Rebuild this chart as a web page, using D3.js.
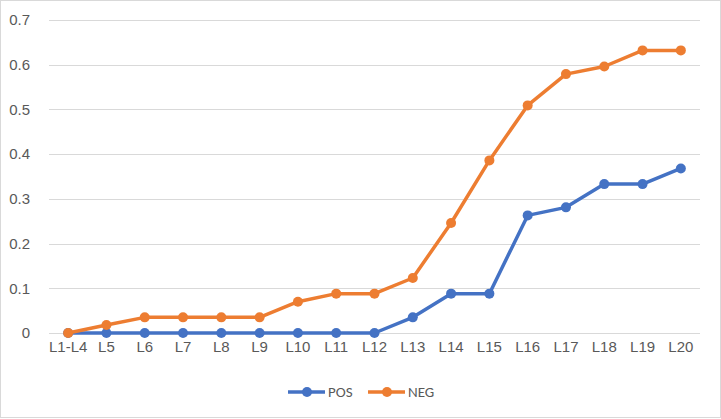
<!DOCTYPE html>
<html>
<head>
<meta charset="utf-8">
<style>
  body { margin: 0; background: #fff; }
  svg { font-family: Carlito, Calibri, "Open Sans", sans-serif; }
</style>
</head>
<body>
<script src="https://d3js.org/d3.v7.min.js"></script>
<script>
// chart data
var categories = ["L1-L4", "L5", "L6", "L7", "L8", "L9", "L10", "L11", "L12",
                  "L13", "L14", "L15", "L16", "L17", "L18", "L19", "L20"];
var pos = [0, 0, 0, 0, 0, 0, 0, 0, 0, 0.035, 0.088, 0.088, 0.263, 0.281, 0.333, 0.333, 0.368];
var neg = [0, 0.018, 0.035, 0.035, 0.035, 0.035, 0.070, 0.088, 0.088, 0.123, 0.246, 0.386, 0.509, 0.579, 0.596, 0.632, 0.632];
var yTicks = [0, 0.1, 0.2, 0.3, 0.4, 0.5, 0.6, 0.7];
var seriesNames = ["POS", "NEG"];
var colors = ["#4472C4", "#ED7D31"];

var width = 721, height = 419;
var margin = {top: 20, right: 21, bottom: 86, left: 49};
var fontSize = 15;

var svg = d3.select("body").append("svg")
    .attr("width", width)
    .attr("height", height);

// outer chart border
svg.append("rect")
    .attr("x", 0.5).attr("y", 0.5)
    .attr("width", width - 1).attr("height", height - 2)
    .attr("fill", "#fff")
    .attr("stroke", "#d9d9d9");

var x = d3.scaleBand()
    .domain(categories)
    .range([margin.left, width - margin.right]);

var y = d3.scaleLinear()
    .domain([0, 0.7])
    .range([height - margin.bottom, margin.top]);

// gridlines
svg.append("g")
    .selectAll("line")
    .data(yTicks)
    .join("line")
    .attr("x1", margin.left)
    .attr("x2", width - margin.right)
    .attr("y1", function (d) { return Math.round(y(d)) + 0.5; })
    .attr("y2", function (d) { return Math.round(y(d)) + 0.5; })
    .attr("stroke", "#d9d9d9")
    .attr("stroke-width", 1);

// y axis labels
var yAxis = svg.append("g")
    .attr("transform", "translate(" + (margin.left - 16) + ",0)")
    .call(d3.axisLeft(y).tickValues(yTicks).tickSize(0).tickFormat(function (d) { return d === 0 ? "0" : d3.format(".1f")(d); }));
yAxis.select(".domain").remove();
yAxis.selectAll("text")
    .attr("font-size", fontSize)
    .attr("fill", "#595959")
    .attr("font-family", null);

// x axis labels
var xAxis = svg.append("g")
    .attr("transform", "translate(0," + (height - margin.bottom) + ")")
    .call(d3.axisBottom(x).tickSize(0).tickPadding(8));
xAxis.select(".domain").remove();
xAxis.selectAll("text")
    .attr("font-size", fontSize)
    .attr("fill", "#595959")
    .attr("font-family", null);

var line = d3.line()
    .x(function (d, i) { return x(categories[i]) + x.bandwidth() / 2; })
    .y(function (d) { return y(d); });

var allSeries = [pos, neg];

allSeries.forEach(function (values, s) {
    var g = svg.append("g");
    g.append("path")
        .datum(values)
        .attr("fill", "none")
        .attr("stroke", colors[s])
        .attr("stroke-width", 3.5)
        .attr("stroke-linejoin", "round")
        .attr("d", line);
    g.selectAll("circle")
        .data(values)
        .join("circle")
        .attr("cx", function (d, i) { return x(categories[i]) + x.bandwidth() / 2; })
        .attr("cy", function (d) { return y(d); })
        .attr("r", 5)
        .attr("fill", colors[s]);
});

// legend
var legend = svg.append("g").attr("transform", "translate(288,392)");
var legendX = [0, 80];
seriesNames.forEach(function (name, i) {
    var lg = legend.append("g").attr("transform", "translate(" + legendX[i] + ",0)");
    lg.append("line")
        .attr("x1", 0).attr("x2", 37)
        .attr("stroke", colors[i])
        .attr("stroke-width", 3.5);
    lg.append("circle")
        .attr("cx", 19).attr("r", 5)
        .attr("fill", colors[i]);
    lg.append("text")
        .attr("x", 40).attr("dy", "0.35em")
        .attr("font-size", fontSize)
        .attr("fill", "#595959")
        .text(name);
});
</script>
</body>
</html>
